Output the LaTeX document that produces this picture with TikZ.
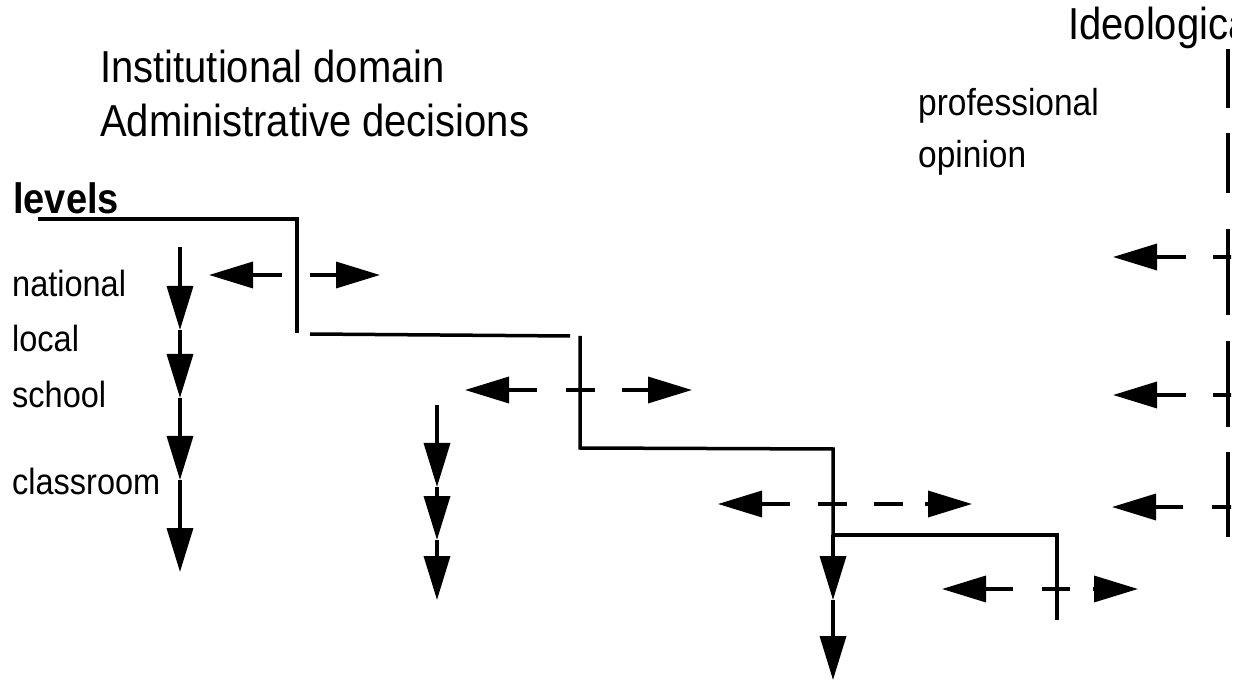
\documentclass[tikz,border=0pt]{standalone}
\usepackage{fontspec}
\setmainfont{Liberation Sans}
\usetikzlibrary{arrows.meta}
\newcommand\tallbox[1]{\scalebox{1}[1.12]{#1}}
\tikzset{
  ttl/.style={anchor=base west, inner sep=0pt, font=\fontsize{40}{44}\selectfont},
  lbl/.style={anchor=base west, inner sep=0pt, font=\fontsize{32.5}{36}\selectfont},
  wire/.style={line width=3.5pt},
  arr/.style={line width=3.5pt, -{Triangle[length=44pt,width=26pt]}},
}
\begin{document}
\begin{tikzpicture}[x=1pt,y=-1pt]
\useasboundingbox (0,0) rectangle (1248,684);
\begin{scope}
\clip (0,0) rectangle (1231,684);

% headings
\node[ttl] (inst) at (100,83) {\tallbox{Institutional domain}};
\node[ttl] (admin) at (100,137) {\tallbox{Administrative decisions}};
\node[lbl, font=\fontsize{33.5}{37}\selectfont] (prof) at (918,116) {\tallbox{professional}};
\node[lbl, font=\fontsize{33.5}{37}\selectfont] (opin) at (918,168) {\tallbox{opinion}};
\node[ttl] (ideo) at (1068,40) {\tallbox{Ideological}};

% level labels
\node[anchor=base west, inner sep=0pt, font=\fontsize{38}{42}\selectfont\bfseries] (levels) at (13,214) {\tallbox{levels}};
\node[lbl] (nat) at (12,297) {\tallbox{national}};
\node[lbl] (loc) at (12,352) {\tallbox{local}};
\node[lbl] (sch) at (12,408) {\tallbox{school}};
\node[lbl] (cls) at (12,494) {\tallbox{classroom}};

% staircase of domains
\draw[wire] (38,219) -- (297,219) -- (297,333);
\draw[wire] (310,334) -- (570,336);
\draw[wire] (580,336) -- (580,448) -- (833,449) -- (833,535);
\draw[wire] (833,535) -- (1057,535) -- (1057,620);

% downward chains
\draw[arr] (180,247) -- (180,330);
\draw[arr] (180,330) -- (180,398);
\draw[arr] (180,398) -- (180,480);
\draw[arr] (180,480) -- (180,572);

\draw[arr] (437,405) -- (437,487);
\draw[arr] (437,487) -- (437,540);
\draw[arr] (437,540) -- (437,600);

\draw[arr] (833,535) -- (833,600);
\draw[arr] (833,600) -- (833,680);

% horizontal exchanges
\draw[arr] (282,275) -- (209,275);
\draw[arr] (310,275) -- (380,275);

\draw[arr] (537,390) -- (465,390);
\draw[wire] (566,390) -- (595,390);
\draw[arr] (622,390) -- (692,390);

\draw[arr] (790,504) -- (718,504);
\draw[wire] (818,504) -- (847,504);
\draw[wire] (874,504) -- (903,504);
\draw[arr] (925,504) -- (972,504);

\draw[arr] (1013,589) -- (942,589);
\draw[wire] (1042,589) -- (1070,589);
\draw[arr] (1093,589) -- (1138,589);

% ideological boundary
\draw[wire] (1228,49) -- (1228,108);
\draw[wire] (1228,133) -- (1228,193);
\draw[wire] (1228,229) -- (1228,315);
\draw[wire] (1228,341) -- (1228,427);
\draw[wire] (1228,452) -- (1228,537);

\draw[arr] (1186,257) -- (1113,257);
\draw[wire] (1213,257) -- (1240,257);
\draw[arr] (1186,395) -- (1113,395);
\draw[wire] (1213,395) -- (1240,395);
\draw[arr] (1183,507) -- (1112,507);
\draw[wire] (1212,507) -- (1240,507);
\end{scope}
\end{tikzpicture}
\end{document}
